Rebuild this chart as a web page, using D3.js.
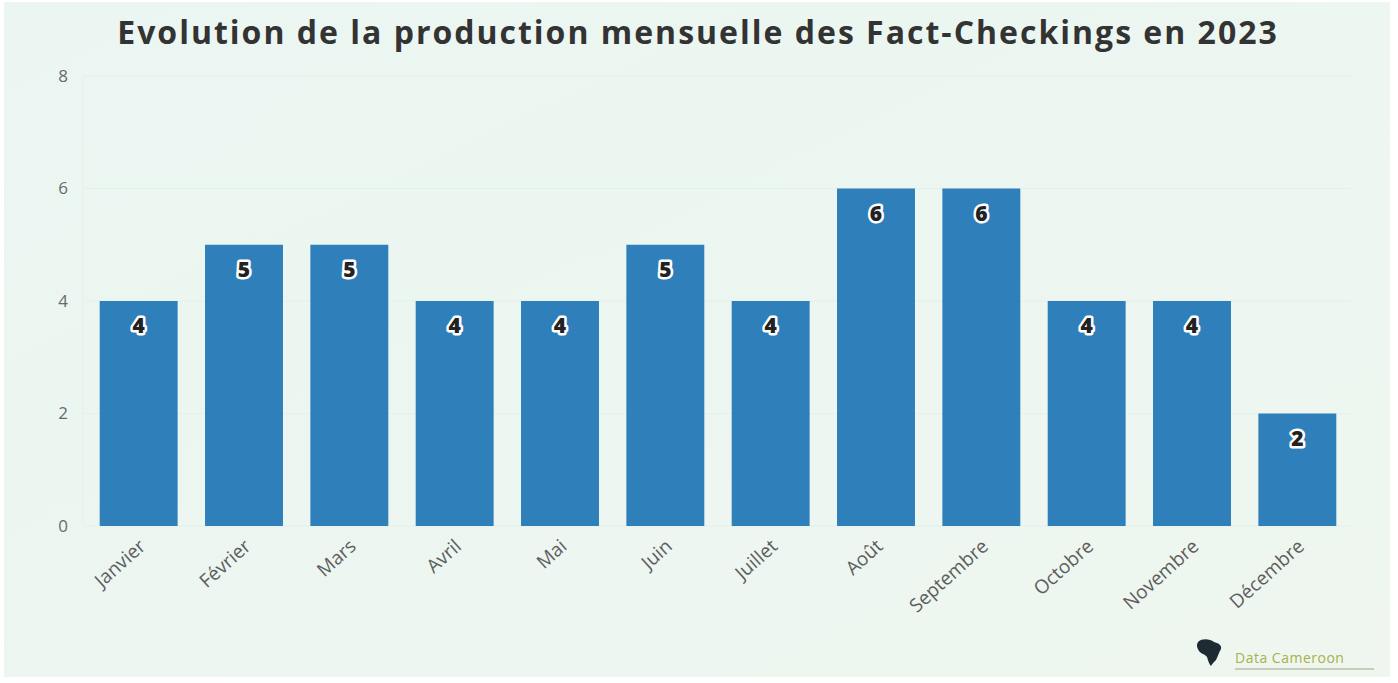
<!DOCTYPE html>
<html><head><meta charset="utf-8">
<script src="https://cdn.jsdelivr.net/npm/d3@7"></script>
<style>
html,body{margin:0;padding:0;background:#fff;}
svg{display:block;}
</style></head>
<body>
<svg id="chart" width="1398" height="683"></svg>
<script>
const months = ["Janvier","Février","Mars","Avril","Mai","Juin","Juillet","Août","Septembre","Octobre","Novembre","Décembre"];
const counts = [4,5,5,4,4,5,4,6,6,4,4,2];
const yTicks = [0,2,4,6,8];
const title = "Evolution de la production mensuelle des Fact-Checkings en 2023";

const W = 1398, H = 683;
const margin = {left: 86, right: 48, top: 76, bottom: 157};
const svg = d3.select("#chart");

const bg = svg.append("defs").append("linearGradient").attr("id","bg").attr("x1","0").attr("y1","0").attr("x2","1").attr("y2","1");
bg.append("stop").attr("offset","0%").attr("stop-color","#ebf6f2");
bg.append("stop").attr("offset","100%").attr("stop-color","#eef6ef");
svg.append("rect").attr("width",W).attr("height",H).attr("fill","#ffffff");
svg.append("rect").attr("x",4).attr("y",2).attr("width",W-12).attr("height",H-8).attr("fill","url(#bg)");

const x = d3.scaleBand().domain(months).range([margin.left, W - margin.right]).paddingInner(0.26).paddingOuter(0.13);
const y = d3.scaleLinear().domain([0,8]).range([H - margin.bottom, margin.top]);

// gridlines
svg.append("g").selectAll("line").data(yTicks).join("line")
  .attr("x1", margin.left - 2).attr("x2", W - margin.right)
  .attr("y1", d => y(d)).attr("y2", d => y(d))
  .attr("stroke", "#e4f0ea").attr("stroke-width", 1);
svg.append("line").attr("x1", margin.left-3).attr("x2", margin.left-3)
  .attr("y1", y(8)).attr("y2", y(0)).attr("stroke","#e6f0ea");

// y axis
const yAxis = d3.axisLeft(y).tickValues(yTicks).tickSize(0).tickPadding(0);
const gy = svg.append("g").attr("transform", `translate(${margin.left-18},0)`).call(yAxis);
gy.select(".domain").remove();
gy.selectAll("text").attr("font-family","Open Sans, sans-serif").attr("font-size",17).attr("fill","#6a6a6a");

// bars
svg.append("g").selectAll("rect").data(months).join("rect")
  .attr("x", d => x(d)).attr("width", x.bandwidth())
  .attr("y", (d,i) => y(counts[i])).attr("height", (d,i) => y(0) - y(counts[i]))
  .attr("fill", "#2f80ba");

// value labels
svg.append("g").selectAll("text").data(months).join("text")
  .attr("x", d => x(d) + x.bandwidth()/2)
  .attr("y", (d,i) => y(counts[i]) + 32)
  .attr("text-anchor","middle")
  .attr("font-family","Open Sans, sans-serif").attr("font-weight",800).attr("font-size",21)
  .attr("fill","#222").attr("stroke","#ffffff").attr("stroke-width",5).attr("paint-order","stroke")
  .attr("stroke-linejoin","round")
  .text((d,i) => counts[i]);

// x axis
const xAxis = d3.axisBottom(x).tickSize(0).tickPadding(0);
const gx = svg.append("g").attr("transform", `translate(0,${y(0)})`).call(xAxis);
gx.select(".domain").remove();
gx.selectAll("text")
  .attr("font-family","Open Sans, sans-serif").attr("font-size",19).attr("fill","#5e5e5e")
  .attr("text-anchor","end").attr("dy",0)
  .attr("transform","translate(8,22) rotate(-42)");

// title
svg.append("text").attr("x", 698).attr("y", 44).attr("text-anchor","middle")
  .attr("font-family","Open Sans, sans-serif").attr("font-weight",700).attr("font-size",32)
  .attr("fill","#333").attr("letter-spacing",2.0).text(title);

// logo
const lg = svg.append("g").attr("transform","translate(1196,648)");
lg.append("path").attr("d","M2,-6 C6,-10 14,-9 18,-6 C22,-5 26,-3 25,1 C23,4 22,8 20,12 C18,14 16,16 15,18 C13,16 12,12 11,9 C9,6 5,6 3,3 C1,0 0,-3 2,-6 Z")
  .attr("fill","#1e2b33");
lg.append("text").attr("x",39).attr("y",15).attr("font-family","Open Sans, sans-serif").attr("font-size",14)
  .attr("fill","#a7b24a").attr("letter-spacing",0.5).text("Data Cameroon");
lg.append("line").attr("x1",39).attr("x2",178).attr("y1",21).attr("y2",21).attr("stroke","#b8c0a8").attr("stroke-width",1.5);
</script>
</body></html>
